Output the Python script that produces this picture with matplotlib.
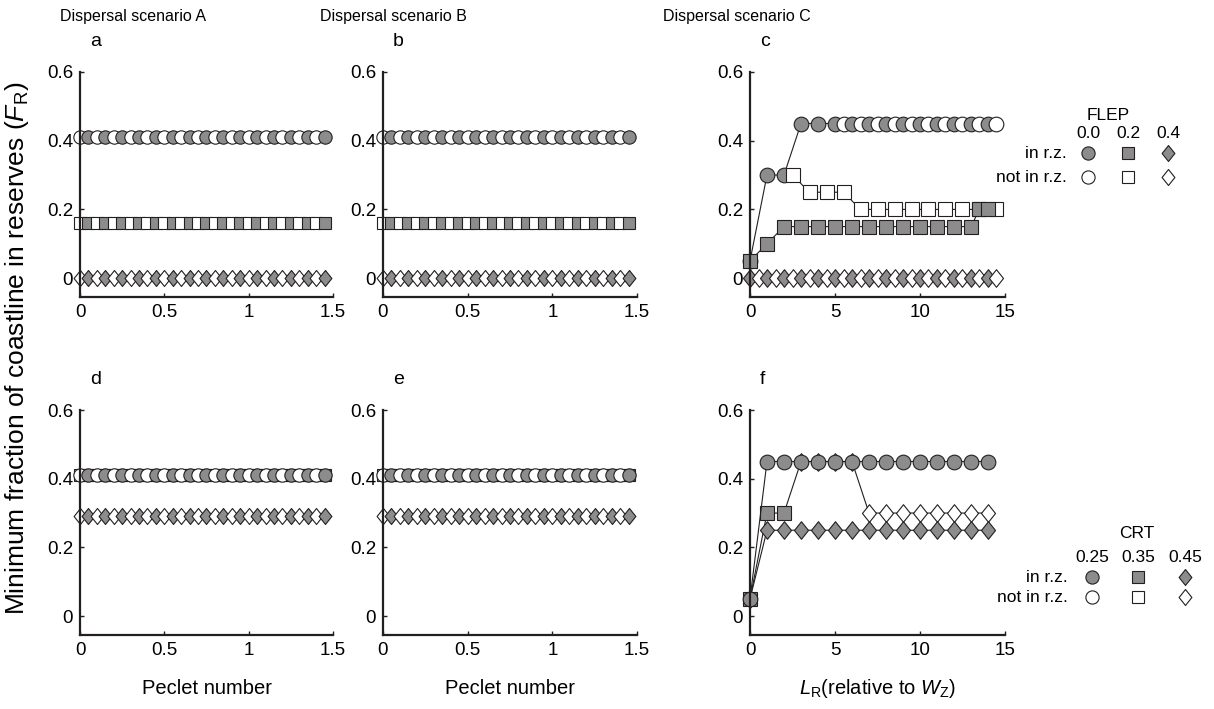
import matplotlib
matplotlib.use('Agg')
import matplotlib.pyplot as plt
from matplotlib.path import Path

plt.rcParams.update({
    'font.family': 'Liberation Sans',
    'mathtext.fontset': 'custom',
    'mathtext.rm': 'Liberation Sans',
    'mathtext.it': 'Liberation Sans:italic',
})

GRAY = '#8c8c8c'
INK = '#231f20'
DIAMOND = Path([(0, 1), (0.8, 0), (0, -1), (-0.8, 0), (0, 1)],
               [Path.MOVETO, Path.LINETO, Path.LINETO, Path.LINETO, Path.CLOSEPOLY])

# ---- data ----
# Peclet panels (a, b, d, e)
PECLET = [0.0, 0.05, 0.1, 0.15, 0.2, 0.25, 0.3, 0.35, 0.4, 0.45,
          0.5, 0.55, 0.6, 0.65, 0.7, 0.75, 0.8, 0.85, 0.9, 0.95,
          1.0, 1.05, 1.1, 1.15, 1.2, 1.25, 1.3, 1.35, 1.4, 1.45]
PECLET_INRZ = ['out', 'in'] * 15
FLEP_LEVEL_AB = {'circle': 0.41, 'square': 0.16, 'diamond': 0.0}
CRT_LEVEL_DE = {'square': 0.41, 'circle': 0.41, 'diamond': 0.29}

# Panel c (FLEP, dispersal scenario C)
C_CIRC_X = [0, 1, 2, 3, 4, 5, 5.5, 6, 6.5, 7, 7.5, 8, 8.5, 9, 9.5, 10,
            10.5, 11, 11.5, 12, 12.5, 13, 13.5, 14, 14.5]
C_CIRC_Y = [0.05, 0.3, 0.3, 0.45, 0.45, 0.45, 0.45, 0.45, 0.45, 0.45, 0.45, 0.45,
            0.45, 0.45, 0.45, 0.45, 0.45, 0.45, 0.45, 0.45, 0.45, 0.45, 0.45, 0.45, 0.45]
C_CIRC_IN = ['in'] * 6 + ['out', 'in'] * 9 + ['out']
C_SQF_X = [0, 1, 2, 3, 4, 5, 6, 7, 8, 9, 10, 11, 12, 13, 13.5, 14]
C_SQF_Y = [0.05, 0.1, 0.15, 0.15, 0.15, 0.15, 0.15, 0.15, 0.15, 0.15, 0.15,
           0.15, 0.15, 0.15, 0.2, 0.2]
C_SQO_X = [2.5, 3.5, 4.5, 5.5, 6.5, 7.5, 8.5, 9.5, 10.5, 11.5, 12.5, 13.5, 14.5]
C_SQO_Y = [0.3, 0.25, 0.25, 0.25, 0.2, 0.2, 0.2, 0.2, 0.2, 0.2, 0.2, 0.2, 0.2]
C_DIA_X = [0, 0.5, 1, 1.5, 2, 2.5, 3, 3.5, 4, 4.5, 5, 5.5, 6, 6.5, 7, 7.5,
           8, 8.5, 9, 9.5, 10, 10.5, 11, 11.5, 12, 12.5, 13, 13.5, 14, 14.5]
C_DIA_Y = [0.0] * 30
C_DIA_IN = ['in', 'out'] * 15

# Panel f (CRT, dispersal scenario C)
F_X = [0, 1, 2, 3, 4, 5, 6, 7, 8, 9, 10, 11, 12, 13, 14]
F_CIRC_Y = [0.05, 0.45, 0.45, 0.45, 0.45, 0.45, 0.45, 0.45, 0.45, 0.45, 0.45,
            0.45, 0.45, 0.45, 0.45]
F_SQ_X = [0, 1, 2, 3]
F_SQ_Y = [0.05, 0.3, 0.3, 0.45]
F_SQ_IN = ['in', 'in', 'in', None]      # beyond x=3 the squares sit under the circles
F_DIAF_Y = [0.05, 0.25, 0.25, 0.25, 0.25, 0.25, 0.25, 0.25, 0.25, 0.25, 0.25,
            0.25, 0.25, 0.25, 0.25]
F_DIAO_X = [3, 4, 5, 6, 7, 8, 9, 10, 11, 12, 13, 14]
F_DIAO_Y = [0.45, 0.45, 0.45, 0.45, 0.3, 0.3, 0.3, 0.3, 0.3, 0.3, 0.3, 0.3]

FLEP_LABELS = ['0.0', '0.2', '0.4']
CRT_LABELS = ['0.25', '0.35', '0.45']

MARKERS = {'circle': 'o', 'square': 's', 'diamond': DIAMOND}


def msize(kind, big):
    base = {'circle': 9.6, 'square': 8.6, 'diamond': 11.5}[kind]
    return base * (1.1 if big else 1.0)


def trace(ax, x, y, kind, inrz, big=False):
    """Thin connecting line, then filled (in r.z.) / open (not in r.z.) markers in x order."""
    ax.plot(x, y, color=INK, lw=0.8, clip_on=False)
    ms = msize(kind, big)
    for xi, yi, f in zip(x, y, inrz):
        if f is None:
            continue
        ax.plot([xi], [yi], linestyle='none', marker=MARKERS[kind], ms=ms,
                mfc=GRAY if f == 'in' else 'white', mec=INK, mew=0.8, clip_on=False)


def style_axes(ax, xmax, xticks, xlabels):
    ax.set_xlim(0, xmax)
    ax.set_ylim(-0.055, 0.6)
    ax.set_xticks(xticks)
    ax.set_xticklabels(xlabels)
    ax.set_yticks([0, 0.2, 0.4, 0.6])
    ax.set_yticklabels(['0', '0.2', '0.4', '0.6'])
    for s in ('top', 'right'):
        ax.spines[s].set_visible(False)
    for s in ('left', 'bottom'):
        ax.spines[s].set_linewidth(1.6)
        ax.spines[s].set_color(INK)
    ax.tick_params(direction='in', length=3, width=1, labelsize=13.5, pad=5,
                   color=INK)
    ax.patch.set_alpha(0)


fig = plt.figure(figsize=(12.14, 7.09), dpi=100)
W, H = 1214, 709
lefts = [80, 383, 750]
widths = [253, 254, 255]
rows = [(72, 297), (410, 635)]
letters = [['a', 'b', 'c'], ['d', 'e', 'f']]
axes = {}
for r, (top, bot) in enumerate(rows):
    for c in range(3):
        ax = fig.add_axes([lefts[c] / W, 1 - bot / H, widths[c] / W, (bot - top) / H])
        axes[letters[r][c]] = ax
        ax.text(0.04, 1.135, letters[r][c], transform=ax.transAxes, fontsize=14,
                ha='left', va='center')

# Peclet panels
for key in ('a', 'b'):
    ax = axes[key]
    for kind in ('circle', 'square', 'diamond'):
        trace(ax, PECLET, [FLEP_LEVEL_AB[kind]] * len(PECLET), kind, PECLET_INRZ)
    style_axes(ax, 1.5, [0, 0.5, 1, 1.5], ['0', '0.5', '1', '1.5'])
for key in ('d', 'e'):
    ax = axes[key]
    for kind in ('square', 'circle', 'diamond'):
        trace(ax, PECLET, [CRT_LEVEL_DE[kind]] * len(PECLET), kind, PECLET_INRZ)
    style_axes(ax, 1.5, [0, 0.5, 1, 1.5], ['0', '0.5', '1', '1.5'])

# Panel c
ax = axes['c']
trace(ax, C_CIRC_X, C_CIRC_Y, 'circle', C_CIRC_IN, big=True)
trace(ax, C_SQO_X, C_SQO_Y, 'square', ['out'] * len(C_SQO_X), big=True)
trace(ax, C_SQF_X, C_SQF_Y, 'square', ['in'] * len(C_SQF_X), big=True)
trace(ax, C_DIA_X, C_DIA_Y, 'diamond', C_DIA_IN, big=True)
style_axes(ax, 15, [0, 5, 10, 15], ['0', '5', '10', '15'])

# Panel f
ax = axes['f']
trace(ax, F_DIAO_X, F_DIAO_Y, 'diamond', ['out'] * len(F_DIAO_X), big=True)
trace(ax, F_SQ_X, F_SQ_Y, 'square', F_SQ_IN, big=True)
trace(ax, F_X, F_DIAF_Y, 'diamond', ['in'] * len(F_X), big=True)
trace(ax, F_X, F_CIRC_Y, 'circle', ['in'] * len(F_X), big=True)
style_axes(ax, 15, [0, 5, 10, 15], ['0', '5', '10', '15'])

# Column titles, axis labels
for x, t in zip([133, 393, 737], ['Dispersal scenario A', 'Dispersal scenario B',
                                  'Dispersal scenario C']):
    fig.text(x / W, 1 - 16 / H, t, ha='center', va='center', fontsize=11.5)
fig.text(207 / W, 1 - 688 / H, 'Peclet number', ha='center', va='center', fontsize=14.5)
fig.text(510 / W, 1 - 688 / H, 'Peclet number', ha='center', va='center', fontsize=14.5)
fig.text(877 / W, 1 - 688 / H, r'$L_{\mathrm{R}}$(relative to $W_{\mathrm{Z}}$)',
         ha='center', va='center', fontsize=14.5)
fig.text(17 / W, 1 - 348 / H,
         r'Minimum fraction of coastline in reserves ($F_{\mathrm{R}}$)',
         rotation=90, ha='center', va='center', fontsize=19)

# Legends drawn in pixel space on an overlay axes
lax = fig.add_axes([0, 0, 1, 1])
lax.set_xlim(0, W)
lax.set_ylim(H, 0)
lax.axis('off')


def legend_block(title, tx, labels, xs, ys, label_x):
    ty, ny, r1, r2 = ys
    lax.text(tx, ty, title, ha='center', va='center', fontsize=12.5)
    for x, lab in zip(xs, labels):
        lax.text(x, ny, lab, ha='center', va='center', fontsize=12.5)
    lax.text(label_x, r1, 'in r.z.', ha='right', va='center', fontsize=12.5)
    lax.text(label_x, r2, 'not in r.z.', ha='right', va='center', fontsize=12.5)
    for x, kind in zip(xs, ('circle', 'square', 'diamond')):
        ms = {'circle': 9.5, 'square': 8, 'diamond': 11.5}[kind]
        for yy, fc in ((r1, GRAY), (r2, 'white')):
            lax.plot([x], [yy], marker=MARKERS[kind], ms=ms, mfc=fc, mec=INK,
                     mew=0.8, linestyle='none')


legend_block('FLEP', 1108, FLEP_LABELS, [1088, 1128, 1168], (115, 134, 153, 177), 1067)
legend_block('CRT', 1137, CRT_LABELS, [1092, 1138, 1185], (533, 557, 577, 597), 1068)

fig.savefig('out.png', dpi=100)
